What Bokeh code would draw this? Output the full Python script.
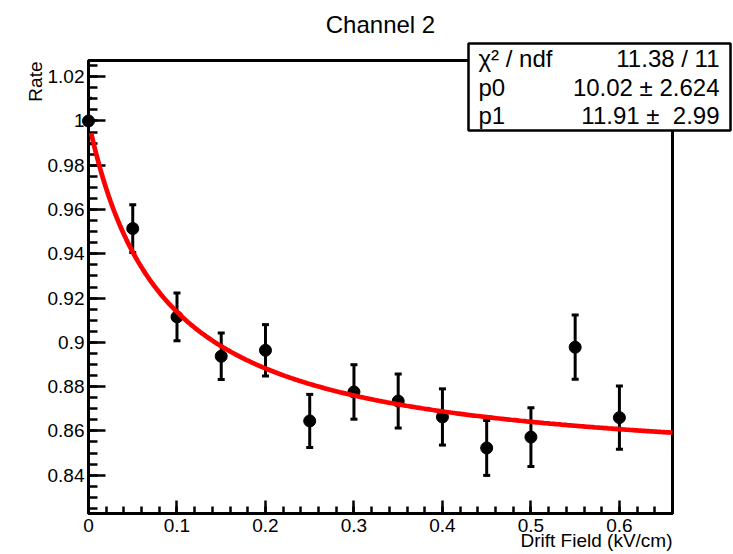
import numpy as np
from bokeh.plotting import figure
from bokeh.models import Range1d, FixedTicker, CustomJSTickFormatter, ColumnDataSource
from bokeh.core.properties import value
from bokeh.embed import file_html
from bokeh.resources import INLINE

# ---------------- data ----------------
drift_field = [0.00, 0.05, 0.10, 0.15, 0.20, 0.25, 0.30, 0.35, 0.40, 0.45, 0.50, 0.55, 0.60]
rate = [1.000, 0.9514, 0.9115, 0.8937, 0.8964, 0.8645, 0.8776, 0.8735, 0.8663,
        0.8523, 0.8572, 0.8978, 0.8660]
rate_err = [0.0103, 0.0108, 0.0108, 0.0105, 0.0116, 0.0120, 0.0123, 0.0122, 0.0127,
            0.0124, 0.0133, 0.0145, 0.0143]

# fit: f(x) = (1 + p0*x) / (1 + p1*x)
p0 = 10.02
p0_err = 2.624
p1 = 11.91
p1_err = 2.99
chi2 = 11.38
ndf = 11
fit_x_start = 0.003
fit_x_end = 0.66

x_major_ticks = [0.0, 0.1, 0.2, 0.3, 0.4, 0.5, 0.6]
x_minor_ticks = [round(0.02 * i, 2) for i in range(0, 34)]
y_major_ticks = [0.84, 0.86, 0.88, 0.90, 0.92, 0.94, 0.96, 0.98, 1.00, 1.02]
y_minor_ticks = [round(0.825 + 0.005 * i, 3) for i in range(0, 41)]

title_text = "Channel 2"
x_title = "Drift Field (kV/cm)"
y_title = "Rate"

# ---------------- layout (canvas pixels) ----------------
W, H = 733, 554
FL, FR, FT, FB = 88, 672, 60, 513   # frame left/right/top/bottom
XMIN, XMAX = 0.0, 0.66
YMIN, YMAX = 0.8227, 1.0273
FONT = "Liberation Sans"


def dx(cx):
    """canvas pixel x -> data x (linear, also outside the frame)"""
    return XMIN + (cx - FL) * (XMAX - XMIN) / (FR - FL)


def dy(cy):
    """canvas pixel y -> data y (linear, also outside the frame)"""
    return YMIN + (FB - cy) * (YMAX - YMIN) / (FB - FT)


p = figure(width=W, height=H, x_range=Range1d(XMIN, XMAX), y_range=Range1d(YMIN, YMAX),
           output_backend="svg", toolbar_location=None, title=None,
           min_border_left=FL, min_border_right=W - FR, min_border_top=FT,
           min_border_bottom=H - FB)
p.background_fill_color = "white"
p.border_fill_color = "white"
p.outline_line_color = "black"
p.outline_line_width = 3
p.outline_line_alpha = 1.0
p.xgrid.visible = False
p.ygrid.visible = False

fmt = CustomJSTickFormatter(code="return (Math.round(tick*1000)/1000).toString();")

xa = p.xaxis[0]
xa.ticker = FixedTicker(ticks=x_major_ticks, minor_ticks=x_minor_ticks)
xa.major_tick_in = 13
xa.major_tick_out = 0
xa.minor_tick_in = 7
xa.minor_tick_out = 0
xa.major_label_standoff = 5

ya = p.yaxis[0]
ya.ticker = FixedTicker(ticks=y_major_ticks, minor_ticks=y_minor_ticks)
ya.major_tick_in = 17
ya.major_tick_out = 0
ya.minor_tick_in = 9
ya.minor_tick_out = 0
ya.major_label_standoff = 4

for ax in (xa, ya):
    ax.formatter = fmt
    ax.axis_line_width = 3
    ax.axis_line_color = "black"
    ax.major_tick_line_width = 2.5
    ax.minor_tick_line_width = 2.5
    ax.major_tick_line_color = "black"
    ax.minor_tick_line_color = "black"
    ax.major_label_text_font = FONT
    ax.major_label_text_font_size = "19px"
    ax.major_label_text_color = "black"

src = ColumnDataSource(dict(
    x=drift_field, y=rate,
    lo=[r - e for r, e in zip(rate, rate_err)],
    hi=[r + e for r, e in zip(rate, rate_err)],
))

p.segment(x0="x", y0="lo", x1="x", y1="hi", source=src, line_width=3, line_color="black")
p.scatter(x="x", y="lo", source=src, marker="dash", size=7, line_width=3, line_color="black")
p.scatter(x="x", y="hi", source=src, marker="dash", size=7, line_width=3, line_color="black")
pts = p.scatter(x="x", y="y", source=src, marker="circle", size=12,
                fill_color="black", line_color="black")
pts.level = "overlay"

fx = np.linspace(fit_x_start, fit_x_end, 300)
fy = (1 + p0 * fx) / (1 + p1 * fx)
fit = p.line(fx, fy, line_color="#ff0000", line_width=4.7)
fit.level = "overlay"


def add_text(cx, cy_mid, txt, size, align, angle=0.0):
    """cy_mid: canvas y of the middle of the capital letters"""
    r = p.text(x=[dx(cx)], y=[dy(cy_mid)], text=[txt], angle=angle,
               text_font=value(FONT), text_font_size=value(size),
               text_align=align, text_baseline="middle", text_color="black")
    r.level = "overlay"
    return r


# titles
add_text(380, 23.5, title_text, "24px", "center")
add_text(672, 540, x_title, "19px", "right")
add_text(35, 61, y_title, "19px", "right", angle=np.pi / 2)

# stats box
box = p.quad(left=[dx(468)], right=[dx(730)], top=[dy(43)], bottom=[dy(130)],
             fill_color="white", fill_alpha=1.0, line_color="black", line_width=2.5)
box.level = "overlay"
stat_rows = [
    ("\u03c7\u00b2 / ndf", f"{chi2:.2f} / {ndf}"),
    ("p0", f"{p0:.2f} \u00b1 {p0_err:.3f}"),
    ("p1", f"{p1:.2f} \u00b1\u00a0 {p1_err:.2f}"),
]
row_middles = [58.0, 86.5, 114.8]
for (lab, val), mid in zip(stat_rows, row_middles):
    add_text(478, mid, lab, "24px", "left")
    add_text(719, mid, val, "24px", "right")

open("out.html", "w").write(file_html(p, INLINE))
